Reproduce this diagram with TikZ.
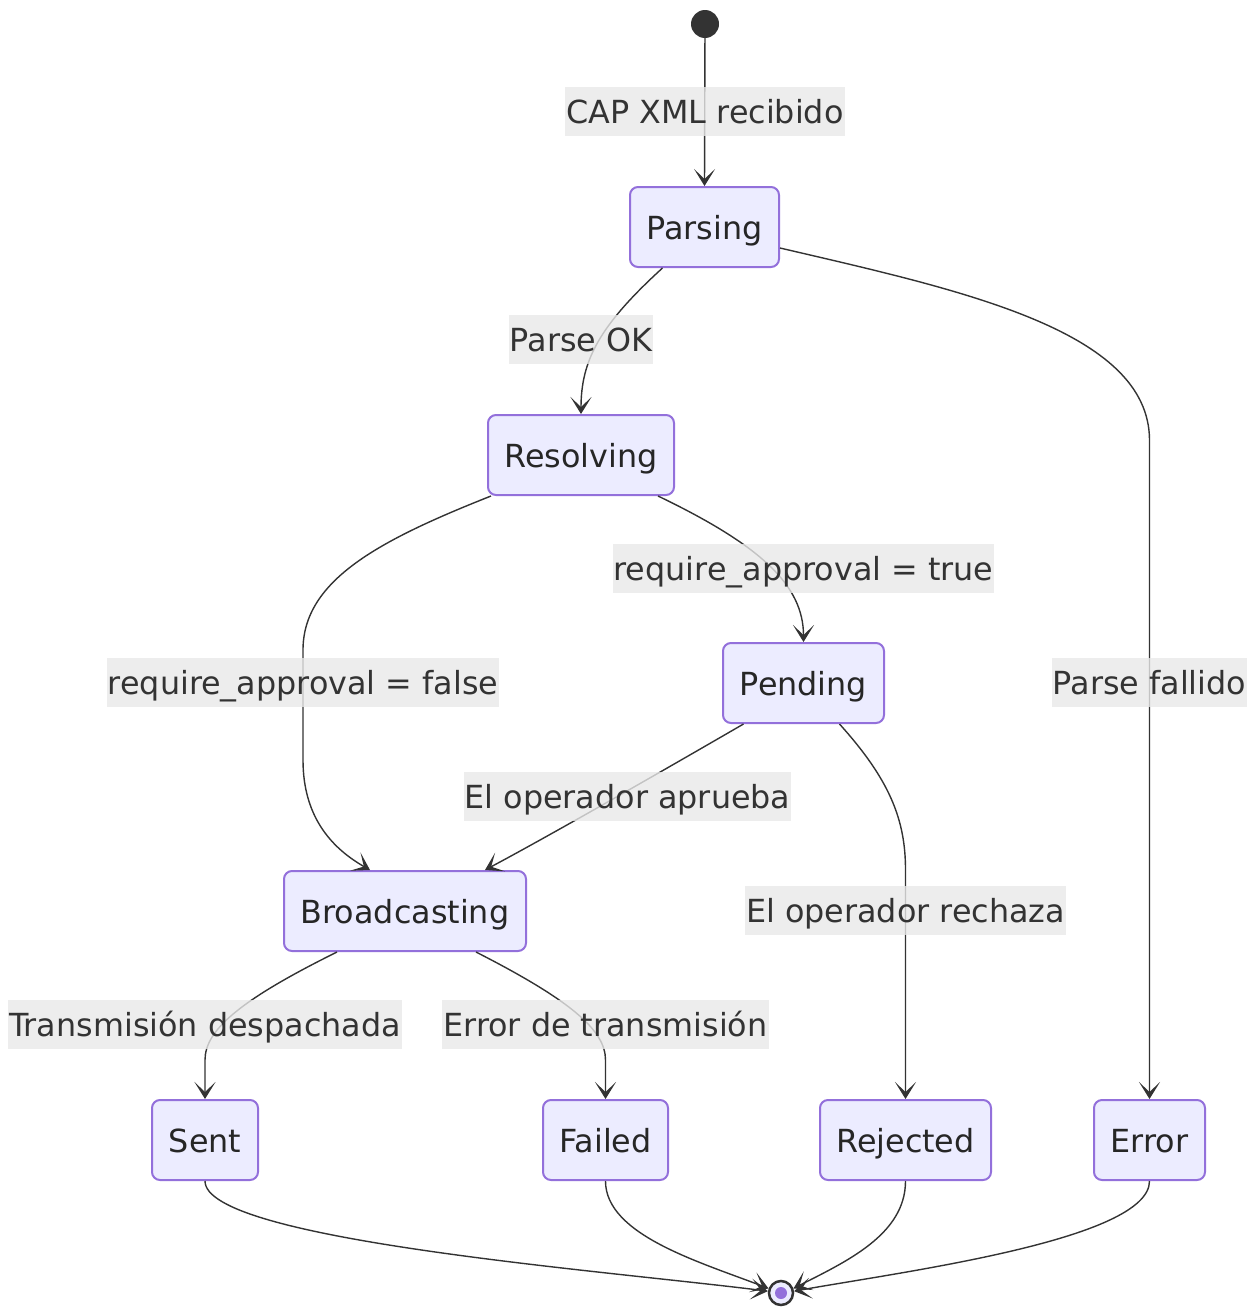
\documentclass[tikz,border=0pt]{standalone}
\usepackage{fontspec}
\setmainfont{DejaVu Sans}
\usetikzlibrary{arrows.meta,calc}
\definecolor{boxfill}{HTML}{ECECFF}
\definecolor{boxdraw}{HTML}{9370DB}
\definecolor{ink}{HTML}{333333}
\definecolor{lblbg}{HTML}{E8E8E8}
\begin{document}
\begin{tikzpicture}[x=1pt,y=-1pt,
  state/.style={draw=boxdraw,fill=boxfill,line width=2pt,rounded corners=8pt,
    minimum height=80pt,inner sep=0pt,text=black!85,text height=27pt,text depth=3pt,
    font=\fontsize{31.8}{38}\selectfont},
  lbl/.style={fill=lblbg,fill opacity=0.8,text opacity=1,text=ink,inner xsep=1pt,
    inner ysep=0pt,minimum height=49pt,text height=27pt,text depth=3pt,
    font=\fontsize{31.8}{38}\selectfont},
  edge/.style={draw=ink,line width=1.4pt,-{Stealth[length=17pt,width=21pt,inset=10pt]}}]
\useasboundingbox (0,0) rectangle (1257,1309);
% nodes
\node[circle,fill=ink,minimum size=28pt,inner sep=0pt] (start) at (705,24) {};
\node[state,minimum width=149pt] (parsing) at (704.5,227) {Parsing};
\node[state,minimum width=186pt] (resolving) at (581,455) {Resolving};
\node[state,minimum width=161pt] (pending) at (803.5,683) {Pending};
\node[state,minimum width=242pt] (broad) at (405,911) {Broadcasting};
\node[state,minimum width=106pt] (sent) at (205,1140) {Sent};
\node[state,minimum width=125pt] (failed) at (605.5,1140) {Failed};
\node[state,minimum width=171pt] (rejected) at (905.5,1140) {Rejected};
\node[state,minimum width=111pt] (error) at (1149.5,1140) {Error};
\node[circle,draw=ink,line width=2.5pt,fill=boxfill,minimum size=24pt,inner sep=0pt] (end) at (781,1293) {};
\node[circle,fill=boxdraw,minimum size=12pt,inner sep=0pt] (endin) at (end.center) {};
% edges
\draw[edge] (start) -- (parsing.north);
\draw[edge] ($(parsing.south)+(-42,0)$) .. controls (600,325) and (581,360) .. (resolving.north);
\draw[edge] ($(parsing.east)+(0,21)$) .. controls (960,290) and (1149,330) .. (1149.5,440) -- (error.north);
\draw[edge] ($(resolving.south west)+(4,0)$) .. controls (380,540) and (303,580) .. (303,650) -- (303,760) .. controls (303,820) and (335,850) .. ($(broad.north)+(-35,0)$);
\draw[edge] ($(resolving.south)+(77,0)$) .. controls (760,545) and (803.5,585) .. (pending.north);
\draw[edge] ($(pending.south)+(-60,0)$) .. controls (690,755) and (560,830) .. ($(broad.north)+(80,0)$);
\draw[edge] ($(pending.south)+(36,0)$) .. controls (890,780) and (905.5,820) .. (905.5,870) -- (rejected.north);
\draw[edge] ($(broad.south)+(-68,0)$) .. controls (240,1000) and (205,1030) .. (205,1060) -- (sent.north);
\draw[edge] ($(broad.south)+(71,0)$) .. controls (570,1000) and (605.5,1030) .. (605.5,1060) -- (failed.north);
\draw[edge] (sent.south) .. controls (205,1240) and (600,1270) .. (end.172);
\draw[edge] (failed.south) .. controls (605.5,1235) and (700,1262) .. (end.160);
\draw[edge] (rejected.south) .. controls (905.5,1235) and (845,1262) .. (end.20);
\draw[edge] (error.south) .. controls (1149.5,1240) and (900,1272) .. (end.8);
% labels
\node[lbl] (l1) at (705,111) {CAP XML recibido};
\node[lbl] (l2) at (581,339) {Parse OK};
\node[lbl] (l3) at (803.5,568) {require\_approval = true};
\node[lbl] (l4) at (303,682) {require\_approval = false};
\node[lbl] (l5) at (1149.5,682) {Parse fallido};
\node[lbl] (l6) at (627.5,796) {El operador aprueba};
\node[lbl] (l7) at (905.5,910) {El operador rechaza};
\node[lbl] (l8) at (205,1024) {Transmisión despachada};
\node[lbl] (l9) at (605.5,1024) {Error de transmisión};
\end{tikzpicture}
\end{document}
